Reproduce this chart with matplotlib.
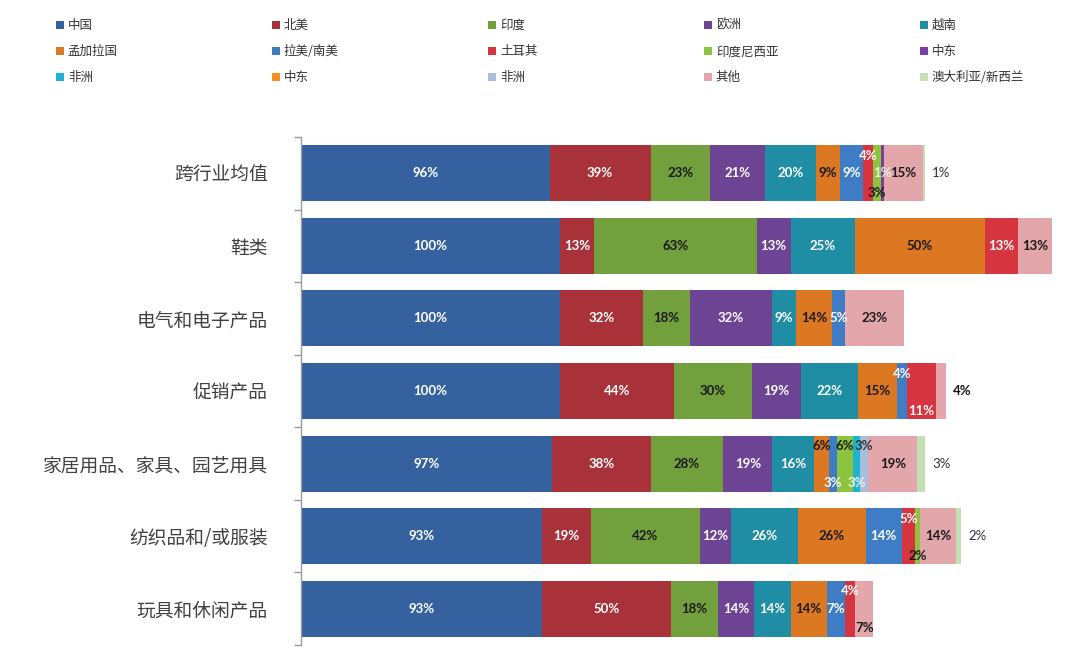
import matplotlib
matplotlib.use("Agg")
import matplotlib.pyplot as plt
from matplotlib.patches import Patch

plt.rcParams['font.family'] = ['Noto Sans CJK SC', 'DejaVu Sans']

categories = ["跨行业均值", "鞋类", "电气和电子产品", "促销产品",
              "家居用品、家具、园艺用具", "纺织品和/或服装", "玩具和休闲产品"]

series_names = ["中国", "北美", "印度", "欧洲", "越南",
                "孟加拉国", "拉美/南美", "土耳其", "印度尼西亚", "中东",
                "非洲", "中东", "非洲", "其他", "澳大利亚/新西兰"]

china       = [96, 100, 100, 100, 97, 93, 93]
north_am    = [39, 13, 32, 44, 38, 19, 50]
india       = [23, 63, 18, 30, 28, 42, 18]
europe      = [21, 13, 32, 19, 19, 12, 14]
vietnam     = [20, 25, 9, 22, 16, 26, 14]
bangladesh  = [9, 50, 14, 15, 6, 26, 14]
latam       = [9, 0, 5, 4, 3, 14, 7]
turkey      = [4, 13, 0, 11, 0, 5, 4]
indonesia   = [3, 0, 0, 0, 6, 2, 0]
mideast1    = [1, 0, 0, 0, 0, 0, 0]
africa1     = [0, 0, 0, 0, 3, 0, 0]
mideast2    = [0, 0, 0, 0, 0, 0, 0]
africa2     = [0, 0, 0, 0, 3, 0, 0]
other       = [15, 13, 23, 4, 19, 14, 7]
anz         = [1, 0, 0, 0, 3, 2, 0]

series_values = [china, north_am, india, europe, vietnam, bangladesh, latam,
                 turkey, indonesia, mideast1, africa1, mideast2, africa2, other, anz]

colors = ["#35629E", "#A9323A", "#72A03C", "#6D4494", "#1F8DA3",
          "#DC7722", "#3F7CC6", "#D6353F", "#8CC43F", "#7A3FA0",
          "#1DB4D0", "#F7901E", "#A9BEDD", "#E3A6AB", "#C3E0B4"]

# label text colours per series
lab_colors = ["white", "white", "#1a1a1a", "white", "white",
              "#1a1a1a", "white", "white", "#1a1a1a", "#E8F0E0",
              "#F0F0F0", "#1a1a1a", "#333333", "#1a1a1a", "#333333"]

# special placement of small labels: (category index, series index) -> mode
placement = {
    (0, 7): "top", (0, 8): "bottom", (0, 14): "out",
    (3, 6): "top", (3, 7): "bottom", (3, 13): "outbold",
    (4, 5): "top", (4, 6): "bottom", (4, 8): "top", (4, 10): "bottom",
    (4, 12): "top", (4, 14): "out",
    (5, 7): "top", (5, 8): "bottom", (5, 14): "out",
    (6, 7): "top", (6, 13): "bottom",
}

W, H = 1080, 651
fig = plt.figure(figsize=(W / 100, H / 100), dpi=100)
px = 2.59  # pixels per percent
ax = fig.add_axes([301 / W, (H - 645) / H, 777 / W, 508 / H])
ax.set_xlim(0, 777 / px)
ax.set_ylim(6.5, -0.5)

ypos = list(range(len(categories)))
left = [0.0] * len(categories)
bar_h = 0.77
for s, vals in enumerate(series_values):
    ax.barh(ypos, vals, left=left, height=bar_h, color=colors[s], linewidth=0)
    for i, v in enumerate(vals):
        if v <= 0:
            continue
        cx = left[i] + v / 2
        mode = placement.get((i, s), "center")
        y = i
        col = lab_colors[s]
        weight = "bold"
        ha = "center"
        if mode == "top":
            y = i - 0.24
        elif mode == "bottom":
            y = i + 0.27
        elif mode in ("out", "outbold"):
            total = sum(sv[i] for sv in series_values)
            cx = total + 2.6
            ha = "left"
            if mode == "out":
                col = "#333333"
                weight = "normal"
            else:
                col = "#111111"
        ax.text(cx, y, f"{v}%", ha=ha, va="center", color=col,
                fontsize=9.5, fontweight=weight, family=["Lato", "DejaVu Sans"])
    left = [l + v for l, v in zip(left, vals)]

for sp in ["top", "right", "bottom"]:
    ax.spines[sp].set_visible(False)
ax.spines["left"].set_color("#9A9A9A")
ax.spines["left"].set_linewidth(1.0)
ax.set_xticks([])
ax.set_yticks(ypos)
ax.set_yticklabels(categories, fontsize=13.5, color="#404040")
ax.tick_params(axis="y", which="major", length=0, pad=24)
ax.set_yticks([k - 0.5 for k in range(len(categories) + 1)], minor=True)
ax.tick_params(axis="y", which="minor", length=5, color="#9A9A9A", width=1.0)

# legend: 5 columns, 3 rows filled row-wise
col_x = [56, 272, 488, 704, 920]
for c in range(5):
    idxs = [c, c + 5, c + 10]
    handles = [Patch(facecolor=colors[k], edgecolor="none") for k in idxs]
    labels = [series_names[k] for k in idxs]
    leg = fig.legend(handles, labels, loc="upper left",
                     bbox_to_anchor=(col_x[c] / W, 1 - 19 / H),
                     frameon=False, fontsize=9, handlelength=0.6,
                     handleheight=0.6, handletextpad=0.35, labelspacing=1.05,
                     borderpad=0, borderaxespad=0)
    for t in leg.get_texts():
        t.set_color("#333333")

fig.savefig("out.png", dpi=100)
